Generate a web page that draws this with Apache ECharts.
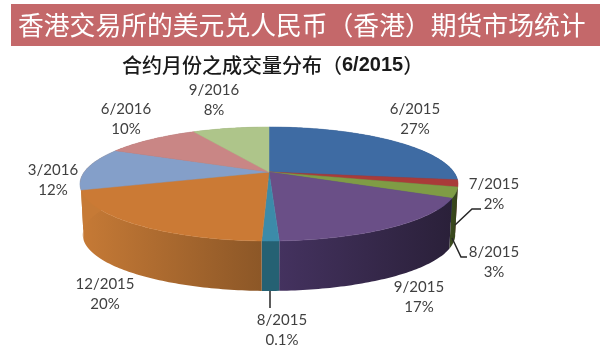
<!DOCTYPE html>
<html>
<head>
<meta charset="utf-8">
<style>
  html, body { margin: 0; padding: 0; background: #fff; }
  #chart { width: 600px; height: 351px; }
</style>
<script src="https://cdn.jsdelivr.net/npm/echarts@6/dist/echarts.min.js"></script>
</head>
<body>
<div id="chart"></div>
<script>
  // 合约月份（顺时针，从正上方开始）
  const categories = ['6/2015', '7/2015', '8/2015', '9/2015', '8/2015', '12/2015', '3/2016', '6/2016', '9/2016'];
  // 扇区大小，按图上量的
  const values = [27.2, 2, 3, 17.1, 1.2, 19.5, 12, 10, 8];
  // 图上写的百分比（0.1% 的扇区实际画得比标注大）
  const percentLabels = ['27%', '2%', '3%', '17%', '0.1%', '20%', '12%', '10%', '8%'];

  const topColors = ['#3e6ba3', '#a93b39', '#7f9c45', '#6a4f87', '#3c8ba9', '#cb7a35', '#849fc9', '#c98685', '#aec58a'];
  const sideColors = [
    ['#2c4d76', '#2c4d76'], ['#6b2422', '#6b2422'], ['#3c4c1e', '#34421a'], ['#44325f', '#2a2039'],
    ['#256173', '#256173'], ['#c67a36', '#8c5727'], ['#c67a36', '#c67a36'], ['#8f5f5e', '#8f5f5e'], ['#7c8d62', '#7c8d62']
  ];
  // 标签中心位置、引导线
  const labelAnchors = [[415, 119], [494, 194], [494, 262], [419, 297], [282, 330], [105, 294], [53, 180], [126, 119], [214, 100]];
  const leaderLines = [
    [[455, 225], [472, 209], [481, 209]],
    [[452, 238], [461, 257], [467, 257]],
    [[270, 291], [270, 308]]
  ];

  // 透视椭圆参数
  const apex = [269, 172];
  const A = 184.8, B = 54.47, K = 0.2105, DEPTH = 51, BOTTOM_SCALE = 0.985;

  const total = values.reduce((a, b) => a + b, 0);
  const starts = [];
  values.reduce((sum, v, i) => { starts[i] = sum; return sum + v; }, 0);

  function rimPoint(deg, depth) {
    const t = deg * Math.PI / 180;
    const u = Math.sin(t), v = -Math.cos(t);
    const w = 1 - K * v;
    const s = depth ? BOTTOM_SCALE : 1;
    return [apex[0] + s * A * u / w, apex[1] + s * B * v / w + (depth ? DEPTH : 0)];
  }
  function arcPoints(i, depth) {
    const a = starts[i] / total * 360, b = (starts[i] + values[i]) / total * 360;
    const n = Math.max(2, Math.ceil(b - a));
    const pts = [];
    for (let k = 0; k <= n; k++) pts.push(rimPoint(a + (b - a) * k / n, depth));
    return pts;
  }

  const seriesData = values.map((v, i) => [i, v]);
  const myChart = echarts.init(document.getElementById('chart'));

  myChart.setOption({
    animation: false,
    backgroundColor: '#fff',
    title: {
      text: '{cn|合约月份之成交量分布（}{en|6/2015}{cn|）}',
      left: 117,
      top: 50,
      textStyle: {
        rich: {
          cn: { fontFamily: 'Noto Sans CJK SC', fontSize: 20, color: '#1a1a1a', fontWeight: 500 },
          en: { fontFamily: 'Liberation Sans', fontSize: 20, fontWeight: 'bold', color: '#1a1a1a' }
        }
      }
    },
    graphic: [
      { type: 'rect', z: 0, shape: { x: 11, y: 4, width: 589, height: 42 }, style: { fill: '#c4686a' } },
      { type: 'text', z: 1, x: 18, y: 12, style: {
        text: '香港交易所的美元兑人民币（香港）期货市场统计',
        font: '25.8px "Noto Sans CJK SC"', fill: '#fff'
      } }
    ].concat(leaderLines.map(pts => ({
      type: 'polyline', z: 5, shape: { points: pts }, style: { stroke: '#262626', lineWidth: 1.5, fill: null }
    }))),
    series: [
      {
        // 侧面
        type: 'custom', coordinateSystem: 'none', z: 2, silent: true, data: seriesData,
        renderItem(params, api) {
          const i = api.value(0);
          const pts = arcPoints(i, false).concat(arcPoints(i, true).reverse());
          const fill = new echarts.graphic.LinearGradient(0, 0, 1, 0, [
            { offset: 0, color: sideColors[i][0] }, { offset: 1, color: sideColors[i][1] }
          ]);
          return { type: 'polygon', shape: { points: pts }, style: { fill: fill } };
        }
      },
      {
        // 顶面
        type: 'custom', coordinateSystem: 'none', z: 3, silent: true, data: seriesData,
        renderItem(params, api) {
          const i = api.value(0);
          return {
            type: 'polygon',
            shape: { points: [apex].concat(arcPoints(i, false)) },
            style: { fill: topColors[i], stroke: topColors[i], lineWidth: 0.5 }
          };
        }
      },
      {
        // 标签
        type: 'custom', coordinateSystem: 'none', z: 4, silent: true, data: seriesData,
        renderItem(params, api) {
          const i = api.value(0);
          return {
            type: 'text',
            x: labelAnchors[i][0], y: labelAnchors[i][1],
            style: {
              text: categories[i] + '\n' + percentLabels[i],
              font: '15px Lato', fill: '#404040',
              align: 'center', verticalAlign: 'middle', lineHeight: 19.5
            }
          };
        }
      }
    ]
  });
</script>
</body>
</html>
